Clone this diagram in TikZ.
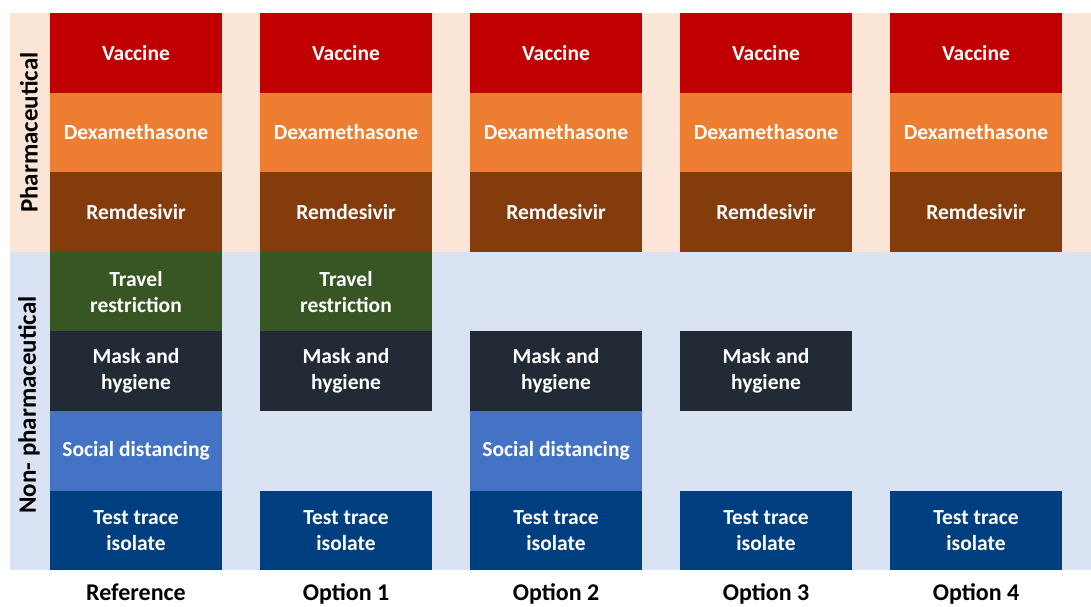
\documentclass[tikz,border=0pt]{standalone}
\usepackage{fontspec}
\setmainfont{Carlito}
\definecolor{cVac}{HTML}{C00000}
\definecolor{cDex}{HTML}{ED7D31}
\definecolor{cRem}{HTML}{843C0C}
\definecolor{cTra}{HTML}{375623}
\definecolor{cMas}{HTML}{222A35}
\definecolor{cSoc}{HTML}{4472C4}
\definecolor{cTes}{HTML}{003F7F}
\definecolor{bgPh}{HTML}{FBE5D6}
\definecolor{bgNp}{HTML}{DAE3F3}
\tikzset{
  cell/.style={minimum width=172pt, minimum height=79.6pt, inner sep=0pt, draw=none,
    text=white, align=center, font=\fontsize{21.5}{26}\selectfont\bfseries},
  sidelabel/.style={rotate=90, inner sep=0pt, text=black, font=\fontsize{25}{28}\selectfont\bfseries},
  collabel/.style={inner sep=0pt, anchor=base, text=black, font=\fontsize{24}{28}\selectfont\bfseries}
}
\begin{document}
\begin{tikzpicture}[x=1pt, y=-1pt]
\useasboundingbox (0,0) rectangle (1091,606);
\fill[white] (0,0) rectangle (1091,606);
\fill[bgPh] (10,13) rectangle (1091,252);
\fill[bgNp] (10,252) rectangle (1091,570.2);
% Reference
\node[cell, fill=cVac] (r-vac) at (136,52.8) {Vaccine};
\node[cell, fill=cDex] (r-dex) at (136,132.4) {Dexamethasone};
\node[cell, fill=cRem] (r-rem) at (136,212) {Remdesivir};
\node[cell, fill=cTra] (r-tra) at (136,291.6) {Travel\\restriction};
\node[cell, fill=cMas] (r-mas) at (136,371.2) {Mask and\\hygiene};
\node[cell, fill=cSoc] (r-soc) at (136,450.8) {Social distancing};
\node[cell, fill=cTes] (r-tes) at (136,530.4) {Test trace\\isolate};
% Option 1
\node[cell, fill=cVac] (o1-vac) at (346,52.8) {Vaccine};
\node[cell, fill=cDex] (o1-dex) at (346,132.4) {Dexamethasone};
\node[cell, fill=cRem] (o1-rem) at (346,212) {Remdesivir};
\node[cell, fill=cTra] (o1-tra) at (346,291.6) {Travel\\restriction};
\node[cell, fill=cMas] (o1-mas) at (346,371.2) {Mask and\\hygiene};
\node[cell, fill=cTes] (o1-tes) at (346,530.4) {Test trace\\isolate};
% Option 2
\node[cell, fill=cVac] (o2-vac) at (556,52.8) {Vaccine};
\node[cell, fill=cDex] (o2-dex) at (556,132.4) {Dexamethasone};
\node[cell, fill=cRem] (o2-rem) at (556,212) {Remdesivir};
\node[cell, fill=cMas] (o2-mas) at (556,371.2) {Mask and\\hygiene};
\node[cell, fill=cSoc] (o2-soc) at (556,450.8) {Social distancing};
\node[cell, fill=cTes] (o2-tes) at (556,530.4) {Test trace\\isolate};
% Option 3
\node[cell, fill=cVac] (o3-vac) at (766,52.8) {Vaccine};
\node[cell, fill=cDex] (o3-dex) at (766,132.4) {Dexamethasone};
\node[cell, fill=cRem] (o3-rem) at (766,212) {Remdesivir};
\node[cell, fill=cMas] (o3-mas) at (766,371.2) {Mask and\\hygiene};
\node[cell, fill=cTes] (o3-tes) at (766,530.4) {Test trace\\isolate};
% Option 4
\node[cell, fill=cVac] (o4-vac) at (976,52.8) {Vaccine};
\node[cell, fill=cDex] (o4-dex) at (976,132.4) {Dexamethasone};
\node[cell, fill=cRem] (o4-rem) at (976,212) {Remdesivir};
\node[cell, fill=cTes] (o4-tes) at (976,530.4) {Test trace\\isolate};
% side labels
\node[sidelabel] (ph) at (29,132.5) {Pharmaceutical};
\node[sidelabel] (np) at (29,405) {Non- pharmaceutical};
% column labels
\node[collabel] (l0) at (136,600.5) {Reference};
\node[collabel] (l1) at (346,600.5) {Option 1};
\node[collabel] (l2) at (556,600.5) {Option 2};
\node[collabel] (l3) at (766,600.5) {Option 3};
\node[collabel] (l4) at (976,600.5) {Option 4};
\end{tikzpicture}
\end{document}
